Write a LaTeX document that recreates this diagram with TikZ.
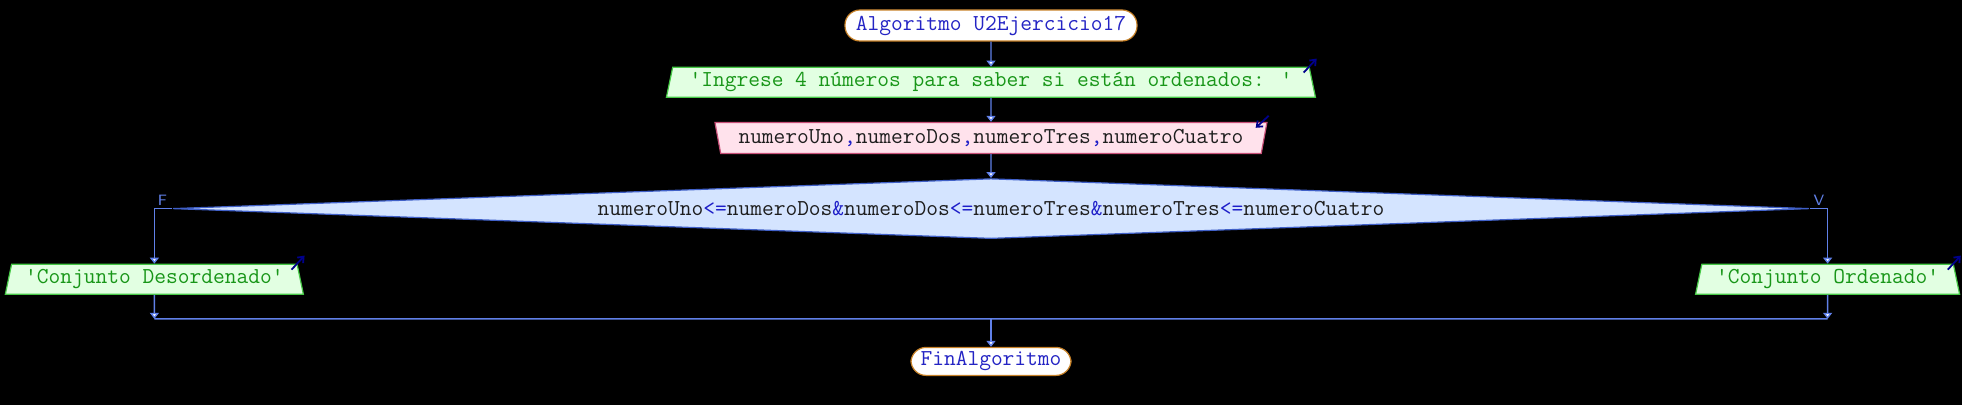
\documentclass[tikz,border=0pt]{standalone}
\usepackage{xcolor}
\usepackage{tikz}
\usetikzlibrary{arrows.meta,positioning,shapes.geometric,calc}
\definecolor{flujo}{RGB}{96,128,232}
\definecolor{clave}{RGB}{36,36,196}
\definecolor{cadena}{RGB}{24,150,24}
\definecolor{ident}{RGB}{30,30,30}
\definecolor{operador}{RGB}{30,30,200}
\definecolor{termborde}{RGB}{200,130,40}
\definecolor{salborde}{RGB}{70,200,70}
\definecolor{salfondo}{RGB}{226,255,226}
\definecolor{entborde}{RGB}{200,80,120}
\definecolor{entfondo}{RGB}{255,226,236}
\definecolor{decborde}{RGB}{64,96,200}
\definecolor{decfondo}{RGB}{212,228,255}
\definecolor{marcacol}{RGB}{0,0,140}
\newcommand{\comilla}{\textquotesingle}
\newcommand{\oper}[1]{\textcolor{operador}{#1}}

\begin{document}
\begin{tikzpicture}[
  node distance=12pt,
  font=\fontsize{11.4}{13}\fontseries{l}\selectfont\ttfamily,
  terminal/.style={draw=termborde, fill=white, rounded corners=7.5pt, line width=0.6pt, minimum height=15.5pt, inner sep=1pt, text=clave},
  salida/.style={trapezium, trapezium left angle=75, trapezium right angle=75, trapezium stretches body, draw=salborde, fill=salfondo, line width=0.6pt, minimum height=15pt, inner sep=1pt, text=cadena},
  entrada/.style={salida, trapezium left angle=105, trapezium right angle=105, draw=entborde, fill=entfondo, text=ident},
  decision/.style={diamond, draw=decborde, fill=decfondo, line width=0.6pt, inner sep=0pt, shape aspect=27, text=ident},
  flecha/.style={draw=flujo, line width=0.7pt, -{Triangle[length=3pt, width=4.5pt, fill=white]}},
  linea/.style={draw=flujo, line width=0.7pt},
  marca/.style={draw=marcacol, line width=0.9pt, -{Straight Barb[length=2.5pt, width=4pt]}},
  etiq/.style={font=\fontsize{7.5}{9}\selectfont\sffamily, text=flujo, inner sep=1.5pt}]
  \fill[black] (-495.5pt,12.75pt) rectangle (485.5pt,-189.75pt);
  \node[terminal, minimum width=146pt] (inicio) at (0,0) {Algoritmo U2Ejercicio17};
  \node[salida, minimum width=324.5pt, below=12.5pt of inicio] (mensaje) {\comilla Ingrese 4 números para saber si están ordenados: \comilla};
  \node[entrada, minimum width=276pt, minimum height=15.5pt, below=of mensaje] (lectura) {numeroUno\oper{,}numeroDos\oper{,}numeroTres\oper{,}numeroCuatro};
  \node[decision, minimum width=818pt, minimum height=30pt, below=of lectura] (condicion) {numeroUno\oper{<=}numeroDos\oper{\&}numeroDos\oper{<=}numeroTres\oper{\&}numeroTres\oper{<=}numeroCuatro};
  \node[salida, minimum width=149pt, below=27.5pt of condicion.west, xshift=-9pt] (salidaF) {\comilla Conjunto Desordenado\comilla};
  \node[salida, minimum width=132pt, below=27.5pt of condicion.east, xshift=9pt] (salidaV) {\comilla Conjunto Ordenado\comilla};
  \coordinate[below=12pt of salidaF.south] (unionF);
  \coordinate[below=12pt of salidaV.south] (unionV);
  \coordinate (union) at (condicion.south |- unionF);
  \node[terminal, minimum width=80pt, minimum height=14pt, below=14pt of union] (fin) {FinAlgoritmo};
  \node[etiq, anchor=south west] (etiqF) at (salidaF.north |- condicion.west) {F};
  \node[etiq, anchor=south east] (etiqV) at (salidaV.north |- condicion.east) {V};
  % flujo
  \draw[flecha] (inicio) -- (mensaje);
  \draw[flecha] (mensaje) -- (lectura);
  \draw[flecha] (lectura) -- (condicion);
  \draw[flecha] (condicion.west) -| (salidaF.north);
  \draw[flecha] (condicion.east) -| (salidaV.north);
  \draw[flecha] (salidaF) -- (unionF);
  \draw[flecha] (salidaV) -- (unionV);
  \draw[linea] (unionF) -- (unionV);
  \draw[flecha] (union) -- (fin);
  % marcas de entrada/salida
  \draw[marca] ($(mensaje.top right corner)+(-3pt,-3pt)$) -- ++(6.5pt,7pt);
  \draw[marca] ($(lectura.top right corner)+(0.5pt,3pt)$) -- ++(-6.5pt,-6pt);
  \draw[marca] ($(salidaF.top right corner)+(-3pt,-3pt)$) -- ++(6.5pt,7pt);
  \draw[marca] ($(salidaV.top right corner)+(-3pt,-3pt)$) -- ++(6.5pt,7pt);
\end{tikzpicture}
\end{document}
